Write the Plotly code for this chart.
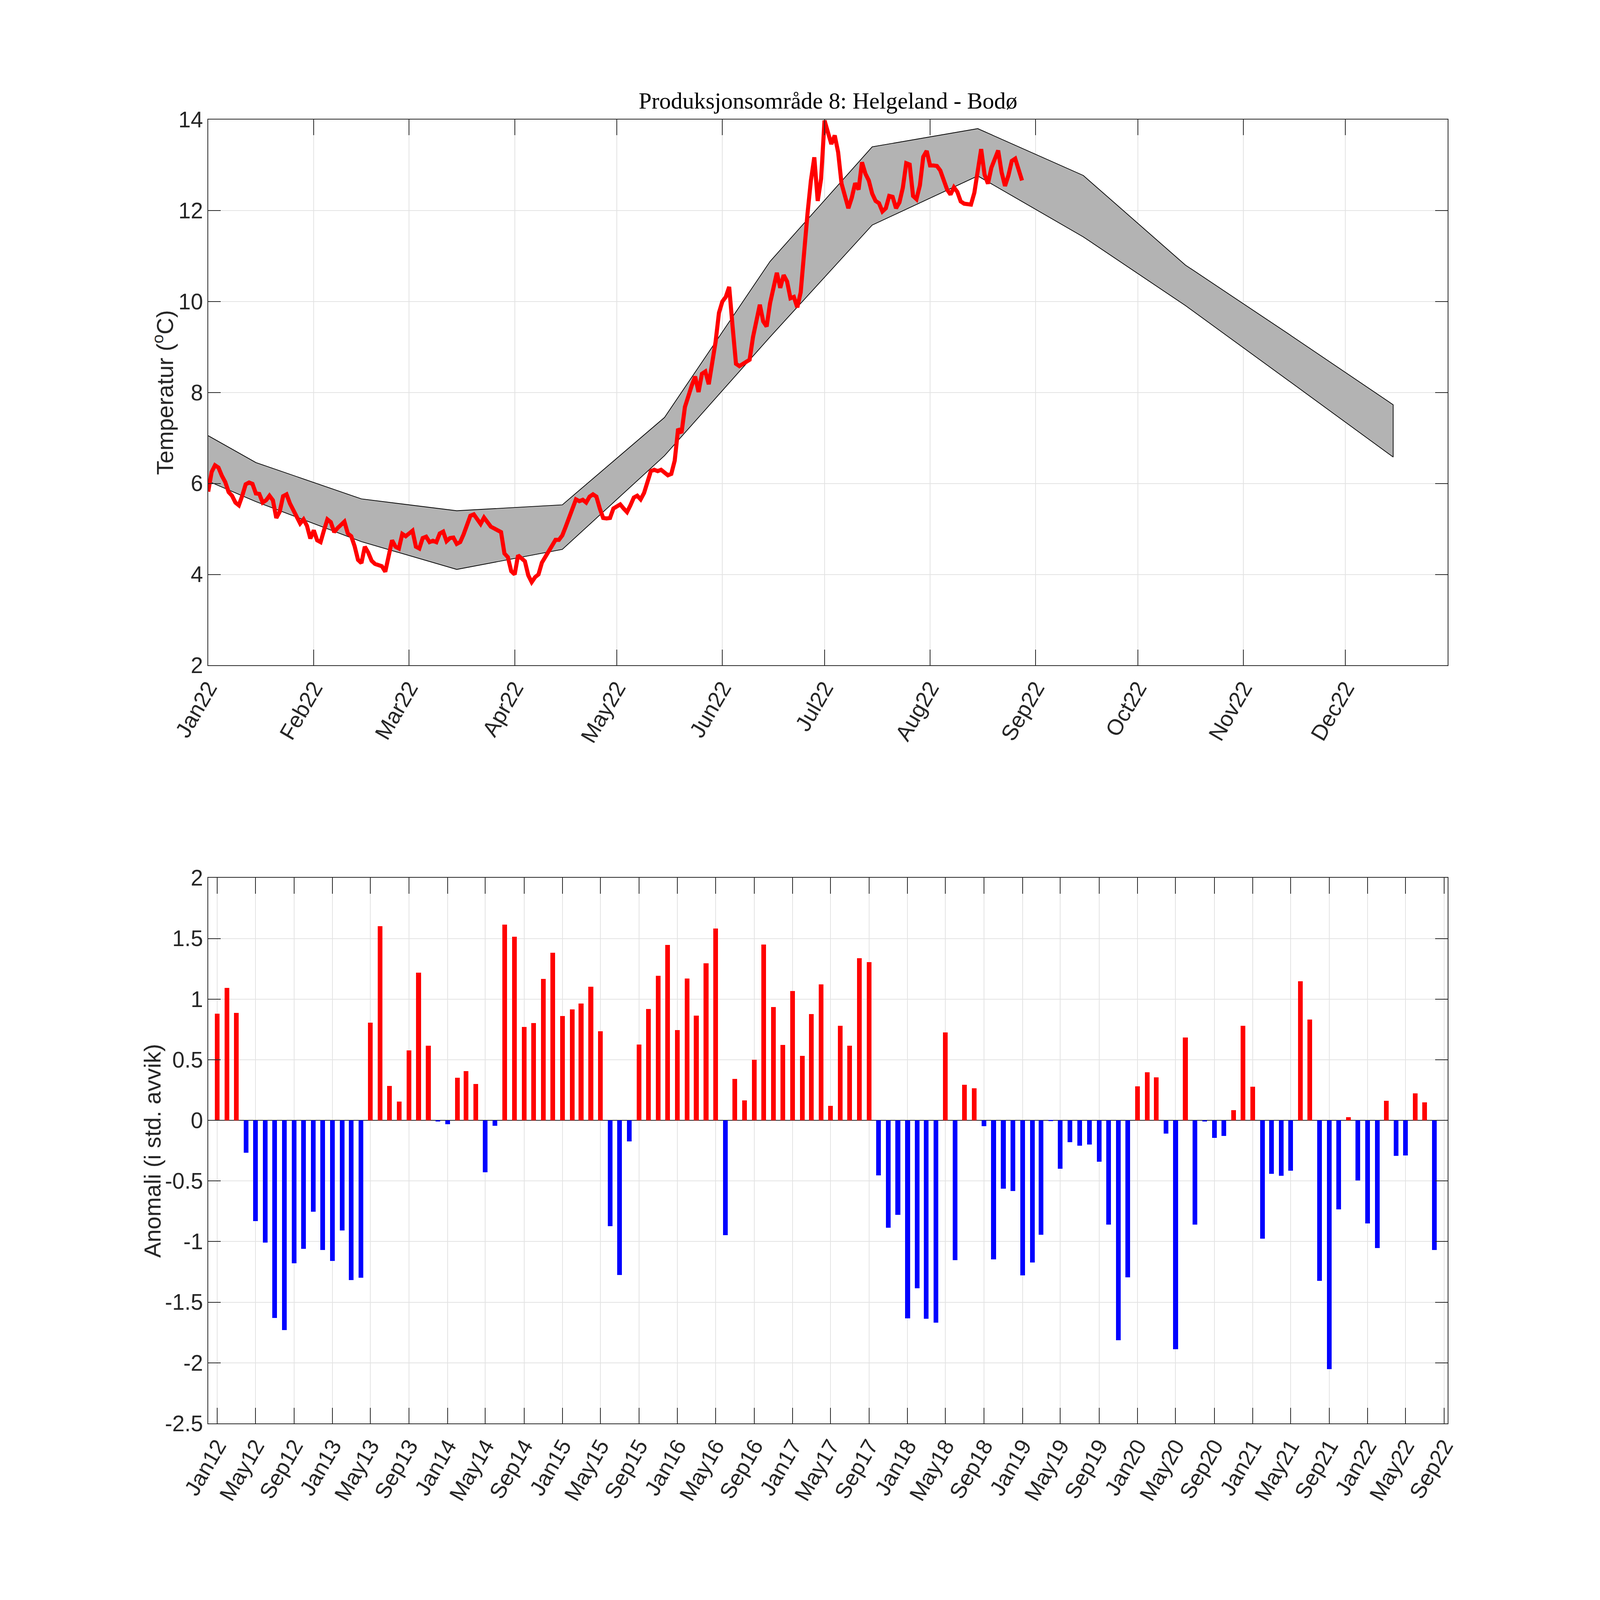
import plotly.graph_objects as go
import pandas as pd

# ---------------- data ----------------
title_text = "Produksjonsområde 8: Helgeland - Bodø"
top_ylabel = "Temperatur (<sup>o</sup>C)"
bottom_ylabel = "Anomali (i std. avvik)"

band_dates = ["2022-01-01", "2022-01-15", "2022-02-15", "2022-03-15", "2022-04-15",
              "2022-05-15", "2022-06-15", "2022-07-15", "2022-08-15", "2022-09-15",
              "2022-10-15", "2022-11-15", "2022-12-15"]
band_upper = [7.05, 6.46, 5.66, 5.40, 5.53, 7.45, 10.88, 13.40, 13.80, 12.77, 10.80, 9.25, 7.73]
band_lower = [6.05, 5.60, 4.72, 4.11, 4.55, 6.61, 9.22, 11.68, 12.76, 11.42, 9.91, 8.22, 6.58]

temp_start = "2022-01-01"
temp_2022 = [
    5.82, 6.25, 6.40, 6.35, 6.17, 6.03, 5.81, 5.73, 5.58, 5.52,
    5.73, 5.98, 6.02, 5.99, 5.78, 5.77, 5.58, 5.63, 5.73, 5.63,
    5.24, 5.38, 5.72, 5.76, 5.56, 5.40, 5.22, 5.12, 5.21, 5.07,
    4.79, 4.97, 4.75, 4.71, 4.97, 5.21, 5.15, 4.93, 5.02, 5.07,
    5.16, 4.90, 4.84, 4.62, 4.32, 4.25, 4.61, 4.48, 4.30, 4.23,
    4.22, 4.18, 4.06, 4.38, 4.75, 4.61, 4.57, 4.89, 4.84, 4.90,
    4.96, 4.61, 4.57, 4.80, 4.83, 4.71, 4.74, 4.71, 4.90, 4.94,
    4.73, 4.80, 4.81, 4.67, 4.71, 4.88, 5.07, 5.29, 5.32, 5.20,
    5.11, 5.25, 5.12, 5.05, 5.01, 4.98, 4.93, 4.46, 4.38, 4.07,
    4.00, 4.42, 4.35, 4.29, 3.98, 3.83, 3.94, 4.00, 4.26, 4.37,
    4.48, 4.64, 4.76, 4.76, 4.86, 5.05, 5.27, 5.43, 5.65, 5.61,
    5.64, 5.58, 5.71, 5.76, 5.71, 5.45, 5.24, 5.23, 5.24, 5.45,
    5.48, 5.54, 5.45, 5.37, 5.52, 5.69, 5.73, 5.65, 5.79, 6.07,
    6.27, 6.30, 6.27, 6.30, 6.24, 6.18, 6.21, 6.50, 7.20, 7.11,
    7.68, 7.95, 8.15, 8.35, 8.01, 8.41, 8.46, 8.18, 8.60, 9.11,
    9.75, 10.00, 10.10, 10.32, 9.45, 8.63, 8.58, 8.63, 8.69, 8.72,
    9.22, 9.62, 9.93, 9.56, 9.45, 9.96, 10.24, 10.63, 10.30, 10.58,
    10.44, 10.07, 10.10, 9.87, 10.20, 11.25, 11.93, 12.66, 13.17, 12.21,
    12.70, 13.98, 13.77, 13.46, 13.65, 13.28, 12.59, 12.30, 12.05, 12.28,
    12.60, 12.46, 13.06, 12.81, 12.66, 12.37, 12.21, 12.16, 11.98, 12.05,
    12.32, 12.30, 12.05, 12.18, 12.50, 13.04, 13.01, 12.32, 12.25, 12.55,
    13.18, 13.31, 12.99, 12.99, 12.98, 12.88, 12.64, 12.46, 12.35, 12.51,
    12.41, 12.20, 12.15, 12.14, 12.13, 12.39, 12.88, 13.35, 12.79, 12.59,
    12.94, 13.10, 13.32, 12.84, 12.54, 12.77, 13.09, 13.14, 12.88, 12.66,
]

anom_start = "2012-01-01"
anomaly = [
    0.88, 1.09, 0.886, -0.267, -0.833, -1.01, -1.63, -1.73, -1.18, -1.06, -0.754, -1.07,      # 2012
    -1.16, -0.91, -1.32, -1.30, 0.806, 1.60, 0.284, 0.155, 0.575, 1.217, 0.616, -0.012,       # 2013
    -0.032, 0.349, 0.405, 0.299, -0.43, -0.047, 1.613, 1.513, 0.768, 0.803, 1.167, 1.381,     # 2014
    0.859, 0.915, 0.962, 1.10, 0.733, -0.874, -1.276, -0.176, 0.625, 0.918, 1.19, 1.446,      # 2015
    0.745, 1.17, 0.862, 1.296, 1.58, -0.947, 0.34, 0.164, 0.499, 1.449, 0.935, 0.622,         # 2016
    1.065, 0.531, 0.877, 1.12, 0.117, 0.78, 0.613, 1.337, 1.305, -0.455, -0.886, -0.78,       # 2017
    -1.633, -1.387, -1.636, -1.67, 0.724, -1.155, 0.293, 0.264, -0.05, -1.147, -0.566, -0.584,  # 2018
    -1.279, -1.173, -0.944, -0.006, -0.40, -0.182, -0.211, -0.2, -0.343, -0.862, -1.815, -1.296,  # 2019
    0.279, 0.396, 0.352, -0.111, -1.889, 0.683, -0.862, -0.009, -0.147, -0.129, 0.082, 0.78,  # 2020
    0.276, -0.977, -0.443, -0.457, -0.416, 1.147, 0.83, -1.325, -2.053, -0.736, 0.026, -0.496,  # 2021
    -0.853, -1.056, 0.161, -0.293, -0.29, 0.223, 0.147, -1.07,                                # 2022
]

top_yticks = [2, 4, 6, 8, 10, 12, 14]
bottom_yticks = [-2.5, -2, -1.5, -1, -0.5, 0, 0.5, 1, 1.5, 2]
bottom_yticktext = ["-2.5", "-2", "-1.5", "-1", "-0.5", "0", "0.5", "1", "1.5", "2"]

# ---------------- styling (in reference pixels, 6667 x 5279) ----------------
W, H = 6667, 5279
ML, MR, MT, MB = 867, 634, 395, 582
AX = "#262626"
GRID = "#e3e3e3"
TICKFONT = dict(family="Liberation Sans, Arial, Helvetica, sans-serif", size=82, color=AX)

temp_dates = pd.date_range(temp_start, periods=len(temp_2022), freq="D")
anom_dates = pd.date_range(anom_start, periods=len(anomaly), freq="MS")
bar_colors = ["#ff0000" if v >= 0 else "#0000ff" for v in anomaly]

fig = go.Figure()

fig.add_trace(go.Scatter(
    x=band_dates + band_dates[::-1],
    y=band_upper + band_lower[::-1],
    fill="toself", fillcolor="#b3b3b3",
    line=dict(color="#000000", width=3),
    mode="lines", xaxis="x", yaxis="y", showlegend=False, hoverinfo="skip"))

fig.add_trace(go.Scatter(
    x=temp_dates, y=temp_2022, mode="lines",
    line=dict(color="#ff0000", width=17),
    xaxis="x", yaxis="y", showlegend=False))

fig.add_trace(go.Bar(
    x=anom_dates, y=anomaly, marker=dict(color=bar_colors, line=dict(width=0)),
    width=15 * 86400000, xaxis="x2", yaxis="y2", showlegend=False))

top_dom = [(4697 - 2196) / 4302, 1.0]
bot_dom = [0.0, (4697 - 2897) / 4302]

common_axis = dict(showline=True, linecolor=AX, linewidth=3, mirror="ticks",
                   ticks="inside", ticklen=52, tickwidth=3, tickcolor=AX,
                   showgrid=True, gridcolor=GRID, gridwidth=2.5,
                   tickfont=TICKFONT, zeroline=False)

fig.update_layout(
    width=W, height=H,
    margin=dict(l=ML, r=MR, t=MT, b=MB, pad=0),
    paper_bgcolor="white", plot_bgcolor="white",
    showlegend=False, bargap=0,
    xaxis=dict(common_axis, anchor="y", domain=[0, 1],
               range=["2022-01-01", "2022-12-31"],
               tick0="2022-01-01", dtick="M1", tickformat="%b%y",
               tickangle=-60, ticklabelstandoff=0, ticklabelshift=32),
    yaxis=dict(common_axis, anchor="x", domain=top_dom, range=[2, 14],
               tickvals=top_yticks, ticklabelstandoff=10),
    xaxis2=dict(common_axis, anchor="y2", domain=[0, 1],
                range=["2011-12-03", "2022-09-12"],
                tick0="2012-01-01", dtick="M4", tickformat="%b%y",
                tickangle=-60, ticklabelstandoff=0, ticklabelshift=28),
    yaxis2=dict(common_axis, anchor="x2", domain=bot_dom, range=[-2.5, 2],
                tickvals=bottom_yticks, ticktext=bottom_yticktext,
                ticklabelstandoff=10, zeroline=True, zerolinecolor=AX, zerolinewidth=2.5),
)

fig.add_annotation(text=title_text, xref="paper", yref="paper",
                   x=0.5, y=(4697 - 333) / 4302, xanchor="center", yanchor="middle",
                   showarrow=False,
                   font=dict(family="Liberation Serif, Times New Roman, serif", size=86, color="#000000"))
fig.add_annotation(text=top_ylabel, xref="paper", yref="paper",
                   x=(680 - 867) / 5166, y=(top_dom[0] + top_dom[1]) / 2,
                   xanchor="center", yanchor="middle", textangle=-90, showarrow=False,
                   font=dict(family="Liberation Sans, Arial, sans-serif", size=86, color=AX))
fig.add_annotation(text=bottom_ylabel, xref="paper", yref="paper",
                   x=(636 - 867) / 5166, y=(bot_dom[0] + bot_dom[1]) / 2,
                   xanchor="center", yanchor="middle", textangle=-90, showarrow=False,
                   font=dict(family="Liberation Sans, Arial, sans-serif", size=86, color=AX))

# Re-lay the figure out to the actual browser viewport, keeping every position
# proportional to the 6667x5279 reference (x scaled by width, y by height).
fit_js = """
var gd = document.getElementById('{plot_id}');
var de = document.documentElement, b = document.body;
de.style.margin='0'; de.style.overflow='hidden'; b.style.margin='0'; b.style.overflow='hidden';
var iw = window.innerWidth, ih = window.innerHeight;
var sx = iw/%(W)d, sy = ih/%(H)d, sl = sx, sf = Math.sqrt(sx*sy);
var L = gd.layout, upd = {width: iw, height: ih,
  'margin.l': %(ML)d*sx, 'margin.r': %(MR)d*sx, 'margin.t': %(MT)d*sy, 'margin.b': %(MB)d*sy};
['xaxis','xaxis2','yaxis','yaxis2'].forEach(function(a){
  var ax = L[a], isx = (a.charAt(0) === 'x');
  upd[a+'.tickfont.size'] = ax.tickfont.size*sf;
  upd[a+'.ticklen'] = ax.ticklen*(isx ? sy : sx);
  upd[a+'.tickwidth'] = Math.max(1, ax.tickwidth*sl);
  upd[a+'.linewidth'] = Math.max(1, ax.linewidth*sl);
  upd[a+'.gridwidth'] = Math.max(1, ax.gridwidth*sl);
  upd[a+'.ticklabelstandoff'] = (ax.ticklabelstandoff||0)*(isx ? sy : sx);
  upd[a+'.ticklabelshift'] = (ax.ticklabelshift||0)*(isx ? sx : sy);
  if (ax.zeroline) upd[a+'.zerolinewidth'] = Math.max(1, ax.zerolinewidth*sl);
});
(L.annotations||[]).forEach(function(an, i){ upd['annotations['+i+'].font.size'] = an.font.size*sf; });
Plotly.relayout(gd, upd);
Plotly.restyle(gd, {'line.width': [Math.max(1, 3*sl), 17*sl]}, [0, 1]);
""" % dict(W=W, H=H, ML=ML, MR=MR, MT=MT, MB=MB)

fig.write_html("out.html", post_script=fit_js,
               config={"responsive": False, "displayModeBar": False})
